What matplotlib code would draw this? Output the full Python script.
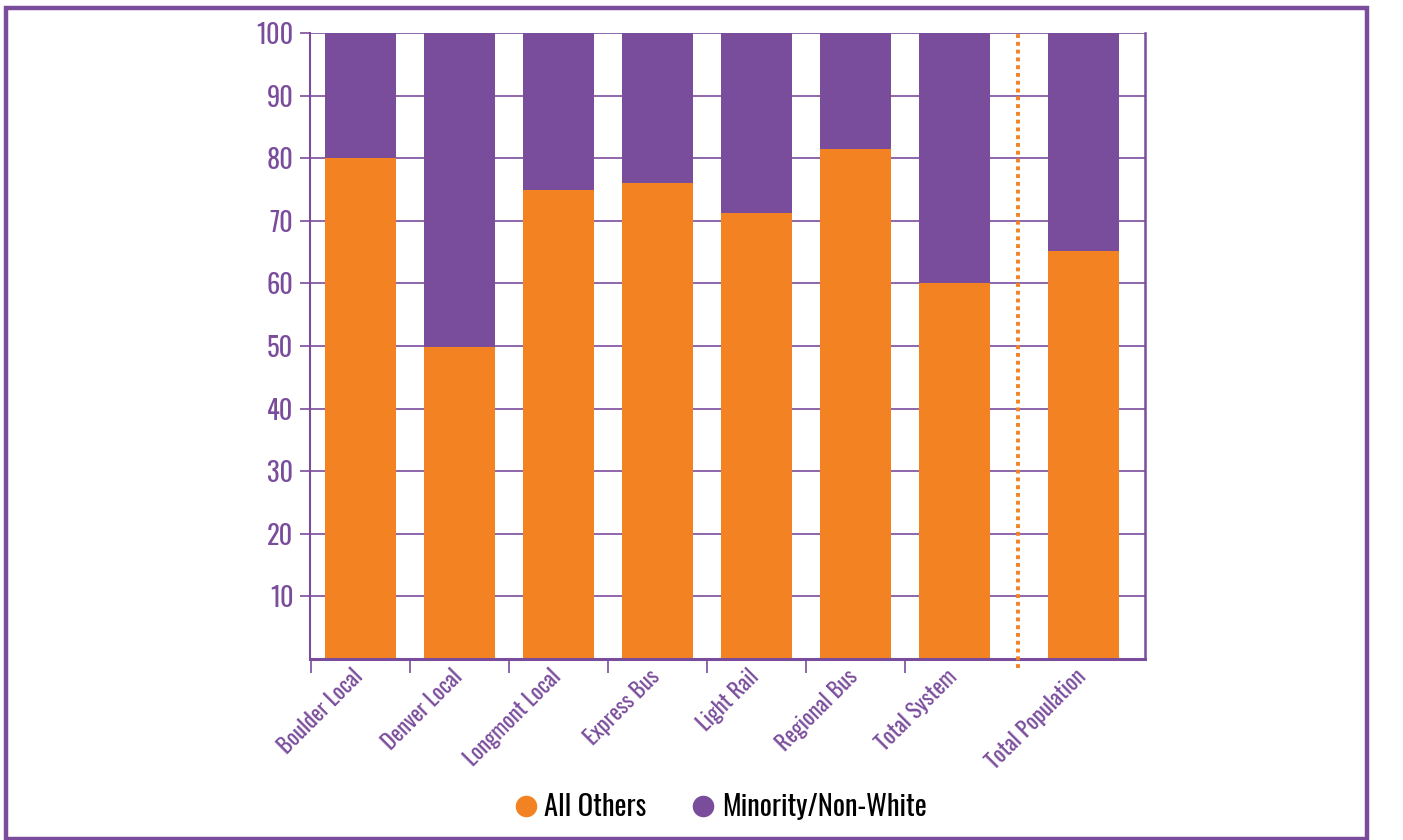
import numpy as np
import matplotlib
matplotlib.use('Agg')
import matplotlib.pyplot as plt
import matplotlib.transforms as mtransforms
from matplotlib.lines import Line2D
from matplotlib.patches import Rectangle

plt.rcParams['font.family'] = ['Oswald', 'DejaVu Sans']

# data
categories = ['Boulder Local', 'Denver Local', 'Longmont Local', 'Express Bus',
              'Light Rail', 'Regional Bus', 'Total System', 'Total Population']
all_others = [80.0, 49.8, 75.0, 76.1, 71.2, 81.4, 60.1, 65.2]
minority = [100 - v for v in all_others]
yticks = [10, 20, 30, 40, 50, 60, 70, 80, 90, 100]

ORANGE = '#F38322'
PURPLE = '#7A4D9C'

fig = plt.figure(figsize=(14.03, 8.40), dpi=100)
ax = fig.add_axes([0.221, 0.2155, 0.595, 0.7452])

# bar positions: Total Population sits apart, past the dotted divider
pos = np.arange(len(categories), dtype=float)
pos[-1] = 7.3
width = 0.72

ax.bar(pos, all_others, width=width, color=ORANGE, zorder=2)
ax.bar(pos, minority, width=width, bottom=all_others, color=PURPLE, zorder=2)

ax.set_xlim(-0.51, 7.92)
ax.set_ylim(0, 100)

# grid
ax.set_yticks(yticks)
ax.set_yticklabels([str(t) for t in yticks])
ax.yaxis.grid(True, color=PURPLE, linewidth=1.2, zorder=0)
ax.set_axisbelow(True)
ax.tick_params(axis='y', colors=PURPLE, labelsize=19, length=7, width=1.2, pad=5)

# x ticks: labels at bar centres, marks at the boundaries
ax.set_xticks(pos)
ax.set_xticklabels(categories, rotation=45, ha='right', va='top',
                   rotation_mode='anchor', color=PURPLE, fontsize=16)
ax.tick_params(axis='x', length=0, pad=6)
shift = mtransforms.ScaledTranslation(-9 / 100, 2 / 100, fig.dpi_scale_trans)
for lab in ax.get_xticklabels():
    lab.set_transform(lab.get_transform() + shift)
ax.set_xticks(np.arange(-0.5, 6.0, 1.0), minor=True)
ax.tick_params(axis='x', which='minor', length=10, width=1.2, color=PURPLE)

for side in ['left', 'right', 'bottom']:
    ax.spines[side].set_color(PURPLE)
ax.spines['left'].set_linewidth(1.5)
ax.spines['right'].set_linewidth(1.8)
ax.spines['bottom'].set_linewidth(2.2)
ax.spines['top'].set_visible(False)

# dotted divider before Total Population
ax.plot([6.64, 6.64], [-1.5, 100], color=ORANGE, linestyle=(0, (1, 1)),
        linewidth=2.8, clip_on=False, zorder=3)

# legend
handles = [Line2D([], [], marker='o', linestyle='none', markersize=14.5,
                  markerfacecolor=ORANGE, markeredgecolor=ORANGE),
           Line2D([], [], marker='o', linestyle='none', markersize=14.5,
                  markerfacecolor=PURPLE, markeredgecolor=PURPLE)]
fig.legend(handles, ['All Others', 'Minority/Non-White'], loc='center',
           bbox_to_anchor=(0.5125, 0.039), ncol=2, frameon=False, fontsize=20.5,
           handletextpad=0.15, columnspacing=1.5, handlelength=1.0)

# outer frame
fig.patches.append(Rectangle((6 / 1403, 1 - 839 / 840), 1361 / 1403, 831 / 840,
                             transform=fig.transFigure, fill=False,
                             edgecolor=PURPLE, linewidth=3.2))

fig.savefig('out.png', dpi=100)
